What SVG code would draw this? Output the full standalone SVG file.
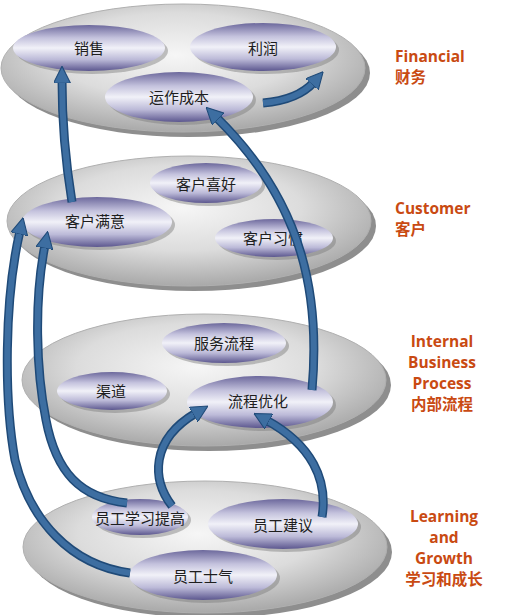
<svg xmlns="http://www.w3.org/2000/svg" width="531" height="615" viewBox="0 0 531 615">
<defs>
<radialGradient id="plat" cx="48%" cy="40%" r="60%">
<stop offset="0" stop-color="#f6f6f6"/>
<stop offset="0.55" stop-color="#dcdcdc"/>
<stop offset="1" stop-color="#a9a9a9"/>
</radialGradient>
<linearGradient id="node" x1="0" y1="0" x2="0" y2="1">
<stop offset="0" stop-color="#6c689c"/>
<stop offset="0.28" stop-color="#c4c2dd"/>
<stop offset="0.5" stop-color="#f1f1f8"/>
<stop offset="0.75" stop-color="#bcbad8"/>
<stop offset="1" stop-color="#5c578f"/>
</linearGradient>
<marker id="ah" markerUnits="userSpaceOnUse" viewBox="0 0 16 16" markerWidth="17" markerHeight="17" refX="3" refY="8" orient="auto">
<path d="M0,0 L16,8 L0,16 Z" fill="#3d6ea1" stroke="#1f4a78" stroke-width="1"/>
</marker>
</defs>
<style>
.rim{fill:#8e8e8e}
.plat{fill:url(#plat);stroke:#b0b0b0;stroke-width:1}
.nshadow{fill:#7a7a7a;opacity:0.45}
.node{fill:url(#node)}
.nt{font-family:"Noto Sans CJK SC","Noto Sans",sans-serif;font-size:15px;fill:#1e1e1e;text-anchor:middle;dominant-baseline:central}
.lab{font-family:"Open Sans","Noto Sans CJK SC",sans-serif;font-weight:bold;font-size:15.5px;fill:#c94a12}
.labc{text-anchor:middle}
.under{fill:none;stroke:#1f4a78;stroke-width:9;stroke-linecap:butt}
.over{fill:none;stroke:#3d6ea1;stroke-width:6;stroke-linecap:butt;marker-end:url(#ah)}
</style>

<g id="platter-financial">
<ellipse class="rim" cx="188" cy="73" rx="182" ry="64"/>
<ellipse class="plat" cx="183" cy="68" rx="182" ry="64"/>
</g>
<g id="platter-customer">
<ellipse class="rim" cx="194" cy="226" rx="182" ry="65"/>
<ellipse class="plat" cx="189" cy="221" rx="182" ry="65"/>
</g>
<g id="platter-internal">
<ellipse class="rim" cx="209" cy="385" rx="182" ry="66"/>
<ellipse class="plat" cx="204" cy="380" rx="182" ry="66"/>
</g>
<g id="platter-learning">
<ellipse class="rim" cx="210" cy="552" rx="182" ry="66"/>
<ellipse class="plat" cx="205" cy="547" rx="182" ry="66"/>
</g>

<g id="n-xiaoshou">
<ellipse class="nshadow" cx="92" cy="51" rx="76" ry="23"/>
<ellipse class="node" cx="89" cy="48" rx="76" ry="23"/>
<text class="nt" x="89" y="47">销售</text>
</g>
<g id="n-lirun">
<ellipse class="nshadow" cx="266" cy="50" rx="73" ry="24"/>
<ellipse class="node" cx="263" cy="47" rx="73" ry="24"/>
<text class="nt" x="263" y="47">利润</text>
</g>
<g id="n-yunzuochengben">
<ellipse class="nshadow" cx="182" cy="100" rx="74" ry="25"/>
<ellipse class="node" cx="179" cy="97" rx="74" ry="25"/>
<text class="nt" x="179" y="96">运作成本</text>
</g>

<g id="n-kehuxihao">
<ellipse class="nshadow" cx="209" cy="186" rx="56" ry="20"/>
<ellipse class="node" cx="206" cy="183" rx="56" ry="20"/>
<text class="nt" x="206" y="183">客户喜好</text>
</g>
<g id="n-kehumanyi">
<ellipse class="nshadow" cx="100" cy="225" rx="75" ry="25"/>
<ellipse class="node" cx="97" cy="222" rx="75" ry="25"/>
<text class="nt" x="95" y="220">客户满意</text>
</g>
<g id="n-kehuxiguan">
<ellipse class="nshadow" cx="277" cy="241" rx="59" ry="19"/>
<ellipse class="node" cx="274" cy="238" rx="59" ry="19"/>
<text class="nt" x="273" y="237">客户习惯</text>
</g>

<g id="n-fuwuliucheng">
<ellipse class="nshadow" cx="227" cy="346" rx="62" ry="20"/>
<ellipse class="node" cx="224" cy="343" rx="62" ry="20"/>
<text class="nt" x="224" y="342">服务流程</text>
</g>
<g id="n-qudao">
<ellipse class="nshadow" cx="115" cy="394" rx="55" ry="19"/>
<ellipse class="node" cx="112" cy="391" rx="55" ry="19"/>
<text class="nt" x="111" y="390">渠道</text>
</g>
<g id="n-liuchengyouhua">
<ellipse class="nshadow" cx="263" cy="405" rx="73" ry="26"/>
<ellipse class="node" cx="260" cy="402" rx="73" ry="26"/>
<text class="nt" x="258" y="400">流程优化</text>
</g>

<g id="n-yuangongxuexi">
<ellipse class="nshadow" cx="143" cy="520" rx="48" ry="18"/>
<ellipse class="node" cx="140" cy="517" rx="48" ry="18"/>
<text class="nt" x="140" y="517">员工学习提高</text>
</g>
<g id="n-yuangongjianyi">
<ellipse class="nshadow" cx="286" cy="527" rx="75" ry="25"/>
<ellipse class="node" cx="283" cy="524" rx="75" ry="25"/>
<text class="nt" x="283" y="524">员工建议</text>
</g>
<g id="n-yuangongshiqi">
<ellipse class="nshadow" cx="206" cy="578" rx="74" ry="25"/>
<ellipse class="node" cx="203" cy="575" rx="74" ry="25"/>
<text class="nt" x="203" y="575">员工士气</text>
</g>

<g id="connectors">
<path class="under" d="M72 202 Q62 140 62 80"/>
<path class="over" d="M72 202 Q62 140 62 80"/>
<path class="under" d="M312 390 C320 300 306 205 216 117"/>
<path class="over" d="M312 390 C320 300 306 205 216 117"/>
<path class="under" d="M263 103 Q298 100 314 82"/>
<path class="over" d="M263 103 Q298 100 314 82"/>
<path class="under" d="M130 573 C70 565 30 520 15 460 C4 400 4 300 20 231"/>
<path class="over" d="M130 573 C70 565 30 520 15 460 C4 400 4 300 20 231"/>
<path class="under" d="M127 503 C80 498 56 472 46 420 C36 370 34 300 45 245"/>
<path class="over" d="M127 503 C80 498 56 472 46 420 C36 370 34 300 45 245"/>
<path class="under" d="M172 506 C152 480 150 440 196 413"/>
<path class="over" d="M172 506 C152 480 150 440 196 413"/>
<path class="under" d="M322 517 C328 480 312 445 266 420"/>
<path class="over" d="M322 517 C328 480 312 445 266 420"/>
</g>

<g id="labels">
<text class="lab" x="395" y="62">Financial</text>
<text class="lab" x="395" y="83">财务</text>
<text class="lab" x="395" y="214">Customer</text>
<text class="lab" x="395" y="235">客户</text>
<text class="lab labc" x="442" y="347">Internal</text>
<text class="lab labc" x="442" y="368">Business</text>
<text class="lab labc" x="442" y="389">Process</text>
<text class="lab labc" x="442" y="410">内部流程</text>
<text class="lab labc" x="444" y="522">Learning</text>
<text class="lab labc" x="444" y="543">and</text>
<text class="lab labc" x="444" y="564">Growth</text>
<text class="lab labc" x="444" y="585">学习和成长</text>
</g>
</svg>
